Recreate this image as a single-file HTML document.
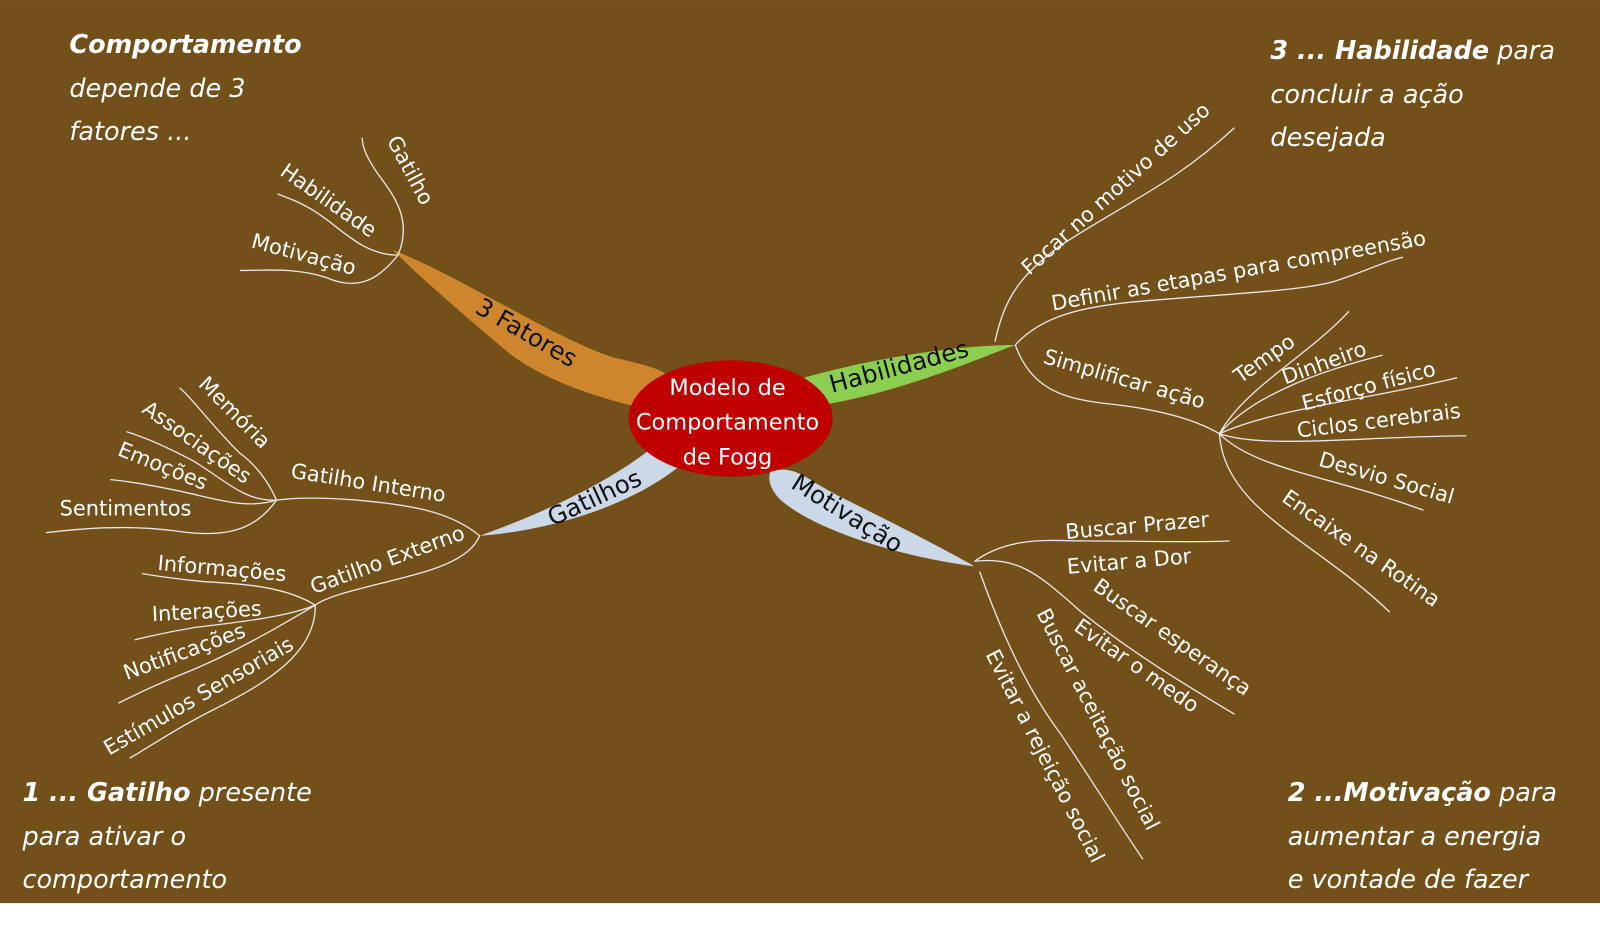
<!DOCTYPE html>
<html><head><meta charset="utf-8"><style>
html,body{margin:0;padding:0;background:#fff;}
svg{display:block;}
text{font-family:"DejaVu Sans","Liberation Sans",sans-serif;}
.l{fill:#fff;font-size:20.5px;text-anchor:middle;}
.c{fill:#fff;font-size:25px;font-style:italic;}
.b{fill:#111;font-size:24px;text-anchor:middle;}
path.w{stroke:#e8e8e8;stroke-width:1.3;fill:none;}
</style></head><body>
<svg width="1600" height="946" viewBox="0 0 1568 927" xmlns="http://www.w3.org/2000/svg">
<rect x="0" y="0" width="1568" height="885" fill="#734f19"/>

<path d="M385,245 C450,270 540,330 600,350 C625,356 645,360 655,368 L640,402 C600,394 540,377 500,347 C450,305 410,270 385,245 Z" fill="#cd862c"/>
<path d="M788,370 C860,350 940,338 995,338 C950,355 880,385 800,398 Z" fill="#8ccf50"/>
<path d="M470,525 C540,500 600,470 640,438 L668,455 C620,495 540,520 470,525 Z" fill="#cbd8e8"/>
<path d="M755,462 C780,455 790,470 820,485 C870,510 920,535 955,555 C880,545 800,520 765,490 C755,480 752,470 755,462 Z" fill="#cbd8e8"/>

<ellipse cx="716" cy="410" rx="100" ry="57" fill="#c00000"/>
<text x="713" y="387" fill="#fff" font-size="22" text-anchor="middle">Modelo de</text>
<text x="713" y="421" fill="#fff" font-size="22" text-anchor="middle">Comportamento</text>
<text x="713" y="455" fill="#fff" font-size="22" text-anchor="middle">de Fogg</text>

<text class="b" transform="translate(512,333) rotate(30)">3 Fatores</text>
<text class="b" transform="translate(883,367) rotate(-15)">Habilidades</text>
<text class="b" transform="translate(586,495) rotate(-25)">Gatilhos</text>
<text class="b" transform="translate(826,510) rotate(32)">Motivação</text>

<path class="w" d="M390,250 C405,215 385,190 370,170 C360,155 355,145 355,135"/>
<path class="w" d="M390,250 C360,250 340,230 320,215 C300,200 285,195 272,190"/>
<path class="w" d="M390,250 C370,275 350,285 320,272 C290,262 260,265 235,265"/>
<text class="l" transform="translate(396,170) rotate(62)">Gatilho</text>
<text class="l" transform="translate(318,202) rotate(35)">Habilidade</text>
<text class="l" transform="translate(296,256) rotate(15)">Motivação</text>

<path class="w" d="M975,335 C985,290 1000,270 1040,240 C1110,195 1150,180 1210,125"/>
<path class="w" d="M995,338 C1020,310 1060,300 1120,295 C1200,288 1280,285 1310,275 C1340,265 1360,255 1375,252"/>
<path class="w" d="M995,338 C1010,380 1040,390 1080,395 C1130,400 1170,410 1195,425"/>
<text class="l" transform="translate(1098,190) rotate(-42)">Focar no motivo de uso</text>
<text class="l" transform="translate(1215,272) rotate(-10)">Definir as  etapas  para compreensão</text>
<text class="l" transform="translate(1100,378) rotate(16)">Simplificar ação</text>
<g>
<path class="w" d="M1195,425 C1220,380 1280,350 1322,305"/>
<path class="w" d="M1195,425 C1230,385 1300,362 1355,348"/>
<path class="w" d="M1195,425 C1250,400 1350,390 1428,370"/>
<path class="w" d="M1195,425 C1240,440 1330,428 1437,427"/>
<path class="w" d="M1195,425 C1230,460 1300,465 1395,500"/>
<path class="w" d="M1195,425 C1200,500 1290,530 1362,600"/>
<text class="l" transform="translate(1243,357) rotate(-35)">Tempo</text>
<text class="l" transform="translate(1300,362) rotate(-20)">Dinheiro</text>
<text class="l" transform="translate(1343,385) rotate(-15)">Esforço físico</text>
<text class="l" transform="translate(1352,419) rotate(-7)">Ciclos cerebrais</text>
<text class="l" transform="translate(1357,475) rotate(16)">Desvio Social</text>
<text class="l" transform="translate(1330,543) rotate(35)">Encaixe na Rotina</text>
</g>

<path class="w" d="M955,550 C990,525 1030,530 1060,530 C1120,530 1170,532 1205,530"/>
<path class="w" d="M955,550 C1000,545 1020,565 1060,600 C1110,640 1160,670 1210,700"/>
<path class="w" d="M960,560 C985,630 1010,680 1040,720 C1070,765 1095,805 1120,842"/>
<text class="l" transform="translate(1115,522) rotate(-5)">Buscar Prazer</text>
<text class="l" transform="translate(1107,557) rotate(-5)">Evitar a Dor</text>
<text class="l" transform="translate(1145,630) rotate(35)">Buscar esperança</text>
<text class="l" transform="translate(1110,658) rotate(35)">Evitar o medo</text>
<text class="l" transform="translate(1070,708) rotate(63)">Buscar aceitação social</text>
<text class="l" transform="translate(1018,744) rotate(63)">Evitar a rejeição social</text>

<path class="w" d="M470,525 C440,500 400,495 350,490 C310,487 290,488 271,490"/>
<path class="w" d="M470,525 C460,550 420,560 380,570 C340,580 320,585 309,593"/>
<text class="l" transform="translate(360,480) rotate(9)">Gatilho Interno</text>
<text class="l" transform="translate(382,555) rotate(-20)">Gatilho Externo</text>
<path class="w" d="M271,490 C262,470 250,455 235,444 C210,420 190,392 176,380"/>
<path class="w" d="M271,490 C240,492 220,470 190,452 C160,436 140,428 124,423"/>
<path class="w" d="M271,490 C240,500 210,488 170,480 C140,474 120,471 108,470"/>
<path class="w" d="M271,490 C250,520 220,528 170,520 C120,514 80,518 45,522"/>
<text class="l" transform="translate(225,409) rotate(45)">Memória</text>
<text class="l" transform="translate(189,439) rotate(35)">Associações</text>
<text class="l" transform="translate(157,463) rotate(22)">Emoções</text>
<text class="l" transform="translate(123,505)">Sentimentos</text>
<path class="w" d="M309,593 C280,575 240,572 200,570 C170,567 150,564 139,562"/>
<path class="w" d="M309,593 C280,605 230,610 190,615 C160,620 140,625 132,627"/>
<path class="w" d="M309,593 C280,610 230,640 180,660 C150,672 130,682 116,689"/>
<path class="w" d="M309,593 C310,640 260,670 210,695 C170,715 145,733 127,743"/>
<text class="l" transform="translate(217,564) rotate(5)">Informações</text>
<text class="l" transform="translate(203,606) rotate(-3)">Interações</text>
<text class="l" transform="translate(183,645) rotate(-20)">Notificações</text>
<text class="l" transform="translate(198,688) rotate(-30)">Estímulos Sensoriais</text>

<text class="c" x="68" y="52"><tspan font-weight="bold">Comportamento</tspan></text>
<text class="c" x="68" y="95">depende de 3</text>
<text class="c" x="68" y="137">fatores ...</text>

<text class="c" x="1245" y="58"><tspan font-weight="bold">3 ... Habilidade</tspan> para</text>
<text class="c" x="1245" y="101">concluir a ação</text>
<text class="c" x="1245" y="143">desejada</text>

<text class="c" x="22" y="785"><tspan font-weight="bold">1 ... Gatilho</tspan> presente</text>
<text class="c" x="22" y="828">para ativar o</text>
<text class="c" x="22" y="870">comportamento</text>

<text class="c" x="1262" y="785"><tspan font-weight="bold">2 ...Motivação</tspan> para</text>
<text class="c" x="1262" y="828">aumentar a energia</text>
<text class="c" x="1262" y="870">e vontade de fazer</text>
</svg>
</body></html>
